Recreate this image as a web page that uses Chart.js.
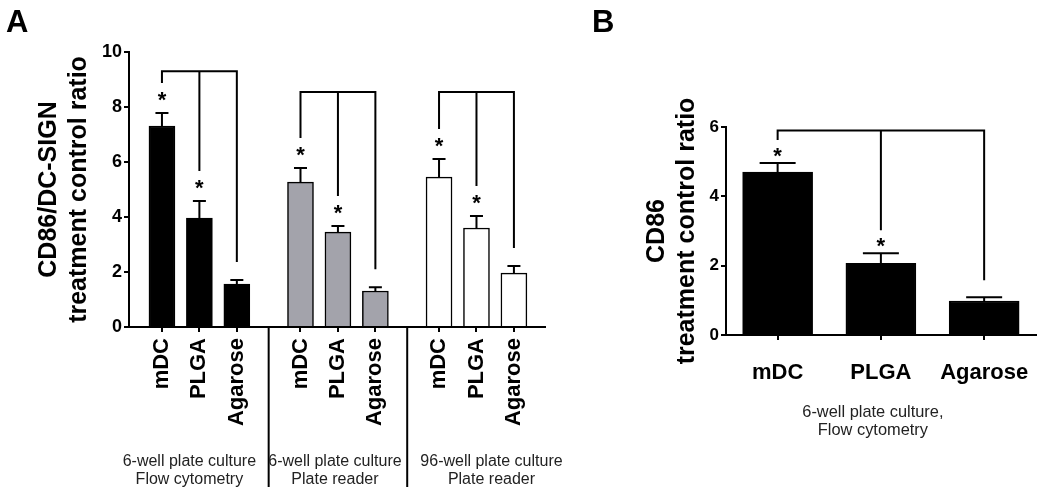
<!DOCTYPE html>
<html>
<head>
<meta charset="utf-8">
<script src="https://cdn.jsdelivr.net/npm/chart.js@4.4.0/dist/chart.umd.min.js"></script>
<style>
    body { margin: 0; background: #fff; }
    #wrap { position: relative; width: 1050px; height: 492px; font-family: 'Liberation Sans', Arial, sans-serif; }
    .panel { position: absolute; top: 0; height: 492px; }
    .tag { position: absolute; font-weight: bold; font-size: 31px; line-height: 1; color: #000; }
</style>
</head>
<body>
<div id="wrap">
    <div class="panel" style="left:0;width:580px"><canvas id="chartA"></canvas></div>
    <div class="panel" style="left:580px;width:470px"><canvas id="chartB"></canvas></div>
    <div class="tag" style="left:6px;top:6px">A</div>
    <div class="tag" style="left:592px;top:6px">B</div>
</div>
<script>
// --- data ---
const treatments = ['mDC', 'PLGA', 'Agarose'];

// panel A: CD86/DC-SIGN ratio, three assay setups
const flowMeans = [7.31, 3.96, 1.56];
const flowErrors = [0.47, 0.62, 0.15];
const readerMeans = [5.27, 3.45, 1.31];
const readerErrors = [0.51, 0.22, 0.14];
const plate96Means = [5.45, 3.60, 1.96];
const plate96Errors = [0.66, 0.44, 0.26];
const groupLabelsA = [
    ['6-well plate culture', 'Flow cytometry'],
    ['6-well plate culture', 'Plate reader'],
    ['96-well plate culture', 'Plate reader']
];
const bracketLevelsA = [9.3, 8.55, 8.55];
const significant = [true, true, false]; // vs. control, per treatment

// panel B: CD86 ratio
const cd86Means = [4.70, 2.07, 0.98];
const cd86Errors = [0.26, 0.29, 0.11];
const groupLabelB = ['6-well plate culture,', 'Flow cytometry'];
const bracketLevelB = 5.9;

Chart.defaults.font.family = "'Liberation Sans', Arial, sans-serif";
Chart.defaults.color = '#000';

const FONT = "'Liberation Sans', Arial, sans-serif";
const GROUP_STEP = 3.7;
const groupFills = ['#000000', '#a3a3ab', '#ffffff'];

function valueOf(d) {
    return typeof d === 'object' ? d.y : d;
}

// error bars, comparison brackets and asterisks
const annotatePlugin = {
    id: 'annotate',
    afterDatasetsDraw(chart, args, opts) {
        const { ctx } = chart;
        const yScale = chart.scales.y;
        ctx.save();
        ctx.strokeStyle = '#000';
        ctx.fillStyle = '#000';
        ctx.lineWidth = 2;
        ctx.lineCap = 'butt';

        chart.data.datasets.forEach((ds, di) => {
            const bars = chart.getDatasetMeta(di).data;
            const errTops = bars.map((bar, i) => yScale.getPixelForValue(valueOf(ds.data[i]) + ds.errors[i]));

            bars.forEach((bar, i) => {
                ctx.beginPath();
                ctx.moveTo(bar.x, bar.y);
                ctx.lineTo(bar.x, errTops[i]);
                ctx.moveTo(bar.x - opts.capWidth / 2, errTops[i]);
                ctx.lineTo(bar.x + opts.capWidth / 2, errTops[i]);
                ctx.stroke();
            });

            const levelPx = yScale.getPixelForValue(ds.bracket);
            ctx.beginPath();
            ctx.moveTo(bars[0].x, levelPx);
            ctx.lineTo(bars[bars.length - 1].x, levelPx);
            bars.forEach((bar, i) => {
                const end = significant[i]
                    ? errTops[i] - opts.starGap - opts.lineGap
                    : errTops[i] - opts.nsGap;
                ctx.moveTo(bar.x, levelPx - 1);
                ctx.lineTo(bar.x, end);
            });
            ctx.stroke();

            ctx.font = `bold ${opts.starSize}px ${FONT}`;
            ctx.textAlign = 'center';
            ctx.textBaseline = 'alphabetic';
            bars.forEach((bar, i) => {
                if (!significant[i]) return;
                ctx.fillText('*', bar.x, errTops[i] - opts.starGap + opts.starSize * 0.55);
            });
        });
        ctx.restore();
    }
};

// group captions (and separators in panel A)
const captionPlugin = {
    id: 'captions',
    afterDraw(chart, args, opts) {
        const { ctx } = chart;
        const xScale = chart.scales.x;
        const yScale = chart.scales.y;
        ctx.save();
        ctx.strokeStyle = '#000';
        ctx.lineWidth = 2;
        (opts.separators || []).forEach(v => {
            const px = xScale.getPixelForValue(v);
            ctx.beginPath();
            ctx.moveTo(px, yScale.bottom);
            ctx.lineTo(px, opts.separatorEnd);
            ctx.stroke();
        });
        ctx.fillStyle = '#222';
        ctx.font = `${opts.size}px ${FONT}`;
        ctx.textAlign = 'center';
        ctx.textBaseline = 'middle';
        opts.items.forEach(item => {
            const px = xScale.getPixelForValue(item.at) + item.shift;
            item.lines.forEach((line, li) => {
                ctx.fillText(line, px, opts.top + li * opts.lineStep);
            });
        });
        ctx.restore();
    }
};

// ---------- panel A ----------
const groupsA = [
    { means: flowMeans, errors: flowErrors },
    { means: readerMeans, errors: readerErrors },
    { means: plate96Means, errors: plate96Errors }
];
const positionsA = [];
groupsA.forEach((g, gi) => g.means.forEach((m, i) => positionsA.push(gi * GROUP_STEP + i)));

new Chart(document.getElementById('chartA'), {
    type: 'bar',
    data: {
        datasets: groupsA.map((g, gi) => ({
            data: g.means.map((m, i) => ({ x: gi * GROUP_STEP + i, y: m })),
            errors: g.errors,
            bracket: bracketLevelsA[gi],
            backgroundColor: groupFills[gi],
            borderColor: '#000',
            borderWidth: 1.5,
            barThickness: 26,
            grouped: false
        }))
    },
    options: {
        responsive: true,
        maintainAspectRatio: false,
        animation: false,
        layout: { padding: { top: 52, right: 35, left: 0, bottom: 0 } },
        scales: {
            x: {
                type: 'linear',
                min: -0.88,
                max: 10.23,
                offset: false,
                afterBuildTicks: s => { s.ticks = positionsA.map(v => ({ value: v })); },
                afterFit: s => { s.height = 165; },
                ticks: {
                    autoSkip: false,
                    minRotation: 90,
                    maxRotation: 90,
                    padding: 6,
                    color: '#000',
                    font: { size: 22, weight: 'bold' },
                    callback: (v, i) => treatments[i % treatments.length]
                },
                grid: { drawOnChartArea: false, offset: false, color: '#000', lineWidth: 2, tickLength: 5 },
                border: { color: '#000', width: 2 }
            },
            y: {
                min: 0,
                max: 10,
                afterFit: s => { s.width = 129; },
                ticks: { stepSize: 2, padding: 2, color: '#000', font: { size: 18, weight: 'bold' } },
                grid: { drawOnChartArea: false, color: '#000', lineWidth: 2, tickLength: 5 },
                border: { color: '#000', width: 2 },
                title: {
                    display: true,
                    text: ['CD86/DC-SIGN', 'treatment control ratio'],
                    color: '#000',
                    font: { size: 25, weight: 'bold', lineHeight: 1.2 },
                    padding: { top: 34, bottom: 0 }
                }
            }
        },
        plugins: {
            legend: { display: false },
            tooltip: { enabled: false },
            annotate: { capWidth: 13, starGap: 18, lineGap: 12, nsGap: 18, starSize: 22 },
            captions: {
                size: 16,
                top: 462,
                lineStep: 18,
                separators: [2 + (GROUP_STEP - 2) / 2, GROUP_STEP + 2 + (GROUP_STEP - 2) / 2],
                separatorEnd: 487,
                items: groupLabelsA.map((lines, gi) => ({
                    lines,
                    at: gi * GROUP_STEP + 1,
                    shift: [-10, -3, 15][gi]
                }))
            }
        }
    },
    plugins: [annotatePlugin, captionPlugin]
});

// ---------- panel B ----------
new Chart(document.getElementById('chartB'), {
    type: 'bar',
    data: {
        labels: treatments,
        datasets: [{
            data: cd86Means,
            errors: cd86Errors,
            bracket: bracketLevelB,
            backgroundColor: '#000',
            borderColor: '#000',
            borderWidth: 1.5,
            barThickness: 70
        }]
    },
    options: {
        responsive: true,
        maintainAspectRatio: false,
        animation: false,
        layout: { padding: { top: 127, right: 11, left: 0, bottom: 0 } },
        scales: {
            x: {
                afterFit: s => { s.height = 157; },
                ticks: { maxRotation: 0, padding: 20, color: '#000', font: { size: 22, weight: 'bold' } },
                grid: { drawOnChartArea: false, offset: false, color: '#000', lineWidth: 2, tickLength: 5 },
                border: { color: '#000', width: 2 }
            },
            y: {
                min: 0,
                max: 6,
                afterFit: s => { s.width = 146; },
                ticks: { stepSize: 2, padding: 2, color: '#000', font: { size: 17, weight: 'bold' } },
                grid: { drawOnChartArea: false, color: '#000', lineWidth: 2, tickLength: 5 },
                border: { color: '#000', width: 2 },
                title: {
                    display: true,
                    text: ['CD86', 'treatment control ratio'],
                    color: '#000',
                    font: { size: 25, weight: 'bold', lineHeight: 1.2 },
                    padding: { top: 62, bottom: 0 }
                }
            }
        },
        plugins: {
            legend: { display: false },
            tooltip: { enabled: false },
            annotate: { capWidth: 36, starGap: 12, lineGap: 11, nsGap: 17, starSize: 22 },
            captions: {
                size: 16.4,
                top: 412,
                lineStep: 18,
                items: [{ lines: groupLabelB, at: 1, shift: -8 }]
            }
        }
    },
    plugins: [annotatePlugin, captionPlugin]
});
</script>
</body>
</html>
